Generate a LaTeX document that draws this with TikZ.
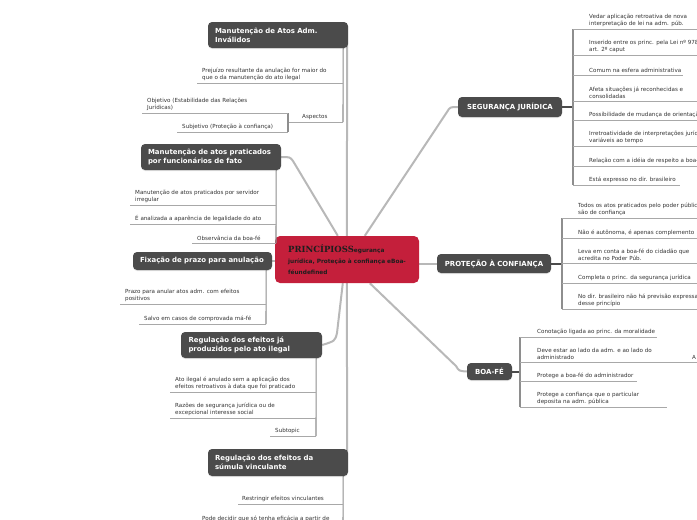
\documentclass[tikz,border=0pt]{standalone}
\usepackage{fontspec}
\setmainfont{DejaVu Sans}
\newfontfamily\bigserif{DejaVu Serif}
\usetikzlibrary{shadows,backgrounds}
\definecolor{topicgray}{HTML}{4B4B4B}
\definecolor{centralred}{HTML}{C41F3B}
\definecolor{conngray}{HTML}{B8B8B8}
\definecolor{branchgray}{HTML}{8E8E8E}
\definecolor{ulgray}{HTML}{A8A8A8}
\definecolor{subtext}{HTML}{333333}
\definecolor{centertext}{HTML}{1E1E1E}
\newcommand{\mmsub}[6]{\node[subtopic] (#1) at (#2,#3-2) {#6};\draw[uline] (#4,#3) -- (#5,#3);}
\begin{document}
\begin{tikzpicture}[x=1pt,y=-1pt,
  topic/.style={fill=topicgray, rounded corners=4pt, text=white,
    font=\fontsize{6.95}{8.8}\selectfont\bfseries, align=left, inner ysep=0pt,
    drop shadow={opacity=0.2, shadow xshift=0pt, shadow yshift=-1pt}},
  topicc/.style={topic, align=center, inner xsep=0pt},
  central/.style={fill=centralred, rounded corners=5pt, text=centertext,
    font=\fontsize{5.8}{11}\selectfont\bfseries, align=left, inner sep=0pt,
    minimum width=144pt, minimum height=47pt},
  subtopic/.style={anchor=south west, inner sep=0pt, text=subtext,
    font=\fontsize{5.6}{7.5}\selectfont, align=left},
  conn/.style={draw=conngray, line width=2pt},
  br/.style={draw=branchgray, line width=1.1pt},
  uline/.style={draw=ulgray, line width=0.8pt},
  stub/.style={draw=topicgray, line width=2pt}]
\useasboundingbox (0,0) rectangle (697,520);
\clip (0,0) rectangle (697,520);
% central topic
\node[central] (C) at (347,259.5) {{\bigserif\fontsize{8.5}{11}\selectfont PRINCÍPIOSS}egurança\\jurídica, Proteção à confiança eBoa-\\féundefined};
% left main topics
\node[topic, text width=126pt, inner xsep=7pt, minimum height=26pt] (T1) at (278,35) {Manutenção de Atos Adm.\\Inválidos};
\node[topic, text width=126pt, inner xsep=7pt, minimum height=26pt] (T2) at (211,157) {Manutenção de atos praticados\\por funcionários de fato};
\node[topic, text width=125pt, inner xsep=7pt, minimum height=18pt] (T3) at (202.5,261) {Fixação de prazo para anulação};
\node[topic, text width=126pt, inner xsep=7.5pt, minimum height=26pt] (T4) at (251.5,345) {Regulação dos efeitos já\\produzidos pelo ato ilegal};
\node[topic, text width=126pt, inner xsep=7pt, minimum height=27pt] (T5) at (278,462.5) {Regulação dos efeitos da\\súmula vinculante};
% right main topics
\node[topicc, minimum width=104pt, minimum height=20pt] (SJ) at (510,107) {SEGURANÇA JURÍDICA};
\node[topicc, minimum width=114pt, minimum height=19pt] (PC) at (494,263.5) {PROTEÇÃO À CONFIANÇA};
\node[topicc, minimum width=45pt, minimum height=17pt] (BF) at (489.5,371.5) {BOA-FÉ};
% connectors from central topic
\begin{scope}[on background layer]
\draw[conn] ([xshift=72pt]C.north west) -- ([xshift=-1pt,yshift=4pt]T1.south east);
\draw[conn] ([xshift=72pt]C.south west) -- ([xshift=-1pt,yshift=-4pt]T5.north east);
\draw[conn] ([xshift=63pt]C.north west) -- (293,161) .. controls (290,157) .. (T2.east);
\draw[conn] (T3.east) -- (T3.east -| C.west);
\draw[conn] ([xshift=68pt]C.south west) -- (337,333) .. controls (335,341) .. (T4.east);
\draw[conn] ([xshift=90pt]C.north west) -- (447,112) .. controls (450,107) .. (SJ.west);
\draw[conn] (C.east |- PC.west) -- (PC.west);
\draw[conn] ([xshift=95pt]C.south west) -- (456,366) .. controls (459,371) .. (BF.west);
\end{scope}
% ---- Manutenção de Atos Adm. Inválidos
\draw[br] ([xshift=-5pt]T1.south east) -- (343,122);
\mmsub{s1a}{202}{83}{197}{343}{Prejuízo resultante da anulação for maior do\\que o da manutenção do ato ilegal}
\mmsub{s1b}{302}{122}{288}{343}{Aspectos}
\draw[br] (288,113) -- (288,132);
\mmsub{s1b1}{147}{113}{142}{288}{Objetivo (Estabilidade das Relações\\Jurídicas)}
\mmsub{s1b2}{182}{132}{177}{288}{Subjetivo (Proteção à confiança)}
% ---- Manutenção de atos praticados por funcionários de fato
\draw[br] ([xshift=-5pt]T2.south east) -- (276,243);
\mmsub{s2a}{135}{205}{130}{276}{Manutenção de atos praticados por servidor\\irregular}
\mmsub{s2b}{135}{224}{130}{276}{É analizada a aparência de legalidade do ato}
\mmsub{s2c}{197}{243}{192}{276}{Observância da boa-fé}
% ---- Fixação de prazo
\draw[br] ([xshift=-6pt]T3.south east) -- (266,324);
\mmsub{s3a}{125}{304}{120}{266}{Prazo para anular atos adm. com efeitos\\positivos}
\mmsub{s3b}{144}{324}{139}{266}{Salvo em casos de comprovada má-fé}
% ---- Regulação dos efeitos já produzidos
\draw[br] ([xshift=-6pt]T4.south east) -- (316,436);
\mmsub{s4a}{175}{392}{170}{316}{Ato ilegal é anulado sem a aplicação dos\\efeitos retroativos à data que foi praticado}
\mmsub{s4b}{175}{418}{170}{316}{Razões de segurança jurídica ou de\\excepcional interesse social}
\mmsub{s4c}{275}{436}{270}{316}{Subtopic}
% ---- Regulação dos efeitos da súmula vinculante
\draw[br] ([xshift=-5pt]T5.south east) -- (343,530);
\mmsub{s5a}{242}{504}{238}{343}{Restringir efeitos vinculantes}
\mmsub{s5b}{202}{524}{197}{343}{Pode decidir que só tenha eficácia a partir de}
% ---- SEGURANÇA JURÍDICA
\draw[stub] (SJ.east) -- (573,107);
\draw[br] (573,29) -- (573,185);
\mmsub{r1}{589}{29}{573}{697}{Vedar aplicação retroativa de nova\\interpretação de lei na adm. púb.}
\mmsub{r2}{589}{55}{573}{697}{Inserido entre os princ. pela Lei nº 9784/99,\\art. 2º caput}
\mmsub{r3}{589}{75}{573}{683}{Comum na esfera administrativa}
\mmsub{r4}{589}{101}{573}{697}{Afeta situações já reconhecidas e\\consolidadas}
\mmsub{r5}{589}{120}{573}{697}{Possibilidade de mudança de orientação}
\mmsub{r6}{589}{146}{573}{697}{Irretroatividade de interpretações jurídicas\\variáveis ao tempo}
\mmsub{r7}{589}{166}{573}{697}{Relação com a idéia de respeito a boa-fé}
\mmsub{r8}{589}{185}{573}{680}{Está expresso no dir. brasileiro}
% ---- PROTEÇÃO À CONFIANÇA
\draw[stub] (PC.east) -- (562,263.5);
\draw[br] (562,218) -- (562,309);
\mmsub{p1}{578}{218}{562}{697}{Todos os atos praticados pelo poder público\\são de confiança}
\mmsub{p2}{578}{238}{562}{697}{Não é autônoma, é apenas complemento}
\mmsub{p3}{578}{263}{562}{697}{Leva em conta a boa-fé do cidadão que\\acredita no Poder Púb.}
\mmsub{p4}{578}{283}{562}{697}{Completa o princ. da segurança jurídica}
\mmsub{p5}{578}{309}{562}{697}{No dir. brasileiro não há previsão expressa\\desse princípio}
% ---- BOA-FÉ
\draw[stub] (BF.east) -- (520,371.5);
\draw[br] (520,337) -- (520,407);
\mmsub{b1}{537}{337}{520}{657}{Conotação ligada ao princ. da moralidade}
\mmsub{b2}{537}{362}{520}{697}{Deve estar ao lado da adm. e ao lado do\\administrado}
\node[subtopic] (b2a) at (692,360) {A};
\mmsub{b3}{537}{381}{520}{637}{Protege a boa-fé do administrador}
\mmsub{b4}{537}{407}{520}{667}{Protege a confiança que o particular\\deposita na adm. pública}
\end{tikzpicture}
\end{document}
